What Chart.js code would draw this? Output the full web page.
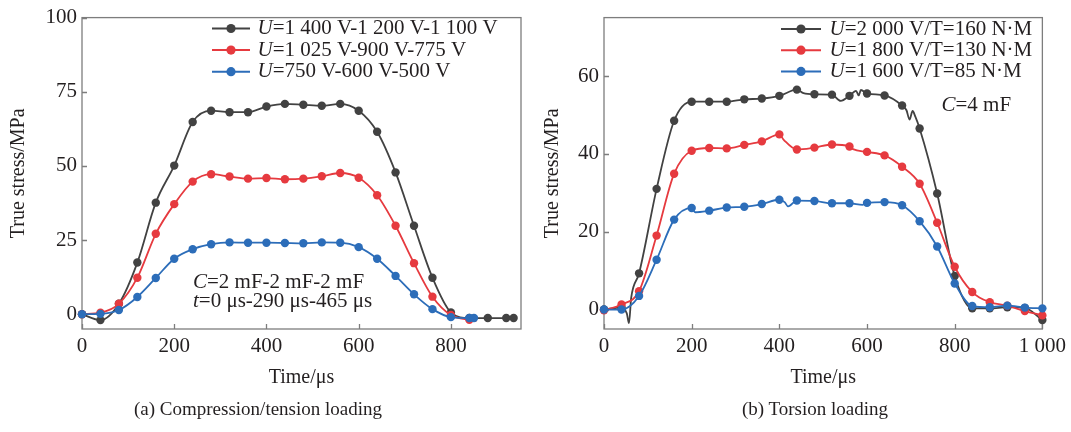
<!DOCTYPE html>
<html>
<head>
<meta charset="utf-8">
<script src="https://cdn.jsdelivr.net/npm/chart.js@4.4.0/dist/chart.umd.min.js"></script>
<style>
  body { margin: 0; background: #fff; }
  #wrap { position: relative; width: 1071px; height: 432px; overflow: hidden; }
  .box { position: absolute; top: 0; height: 432px; }
  .cap { position: absolute; top: 398px; font: 19px "Liberation Serif", serif; color: #231f20; text-align: center; }
</style>
</head>
<body>
<div id="wrap">
  <div class="box" style="left:0;width:535px"><canvas id="chartA"></canvas></div>
  <div class="box" style="left:535px;width:536px"><canvas id="chartB"></canvas></div>
  <div class="cap" style="left:0;width:516px">(a) Compression/tension loading</div>
  <div class="cap" style="left:560px;width:510px">(b) Torsion loading</div>
</div>
<script>
// ---- (a) compression / tension ----
const timeA = [0, 40, 80, 120, 160, 200, 240, 280, 320, 360, 400, 440, 480, 520, 560, 600, 640, 680, 720, 760, 800, 840];
const blackA = [0, -2, 3.5, 17.4, 37.6, 50.1, 64.8, 68.6, 68.1, 68.1, 70.0, 70.9, 70.6, 70.3, 70.9, 68.6, 61.5, 47.8, 29.8, 12.3, 0.6, -1.3];
const redA = [0, 0.5, 3.5, 12.3, 27.1, 37.1, 44.7, 47.2, 46.4, 45.7, 45.9, 45.5, 45.7, 46.5, 47.6, 46.0, 40.1, 29.8, 17.2, 5.9, -0.3, -1.9];
const blueA = [0, 0.1, 1.4, 5.8, 12.2, 18.7, 21.9, 23.6, 24.2, 24.1, 24.1, 24.0, 23.9, 24.2, 24.1, 22.6, 18.7, 12.9, 6.7, 1.7, -1.0, -1.3];
// extra points after 840 us (with markers)
const blackTailTimeA = [880, 920, 936];
const blackTailA = [-1.3, -1.3, -1.3];
const blueTailTimeA = [850];
const blueTailA = [-1.3];
// line-only end of red curve
const redKinkTimeA = [856];
const redKinkA = [-2.2];
const ticksXA = [0, 200, 400, 600, 800];
const labelsXA = ['0', '200', '400', '600', '800'];
const ticksYA = [0, 25, 50, 75, 100];
const legendA = ['=1 400 V-1 200 V-1 100 V', '=1 025 V-900 V-775 V', '=750 V-600 V-500 V'];

// ---- (b) torsion ----
const timeB = [0, 40, 80, 120, 160, 200, 240, 280, 320, 360, 400, 440, 480, 520, 560, 600, 640, 680, 720, 760, 800, 840, 880, 920, 960, 1000];
const blackB = [0, 0.5, 9.3, 31.0, 48.5, 53.4, 53.4, 53.4, 54.0, 54.2, 54.9, 56.5, 55.3, 55.2, 54.9, 55.5, 55.0, 52.4, 46.5, 29.8, 8.6, 0.3, 0.3, 0.6, 0.4, -2.7];
const redB = [-0.2, 1.3, 4.7, 19.0, 34.9, 40.8, 41.5, 41.4, 42.3, 43.2, 45.0, 41.1, 41.6, 42.4, 41.9, 40.5, 39.6, 36.7, 32.3, 22.3, 11.0, 4.5, 1.9, 1.0, -0.4, -1.5];
const blueB = [0, 0, 3.5, 12.8, 23.1, 26.1, 25.4, 26.2, 26.4, 27.1, 28.2, 28.0, 27.9, 27.3, 27.3, 27.4, 27.6, 26.8, 22.7, 16.2, 6.7, 0.9, 0.6, 1.0, 0.5, 0.3];
// noisy bits of the curves between markers (no markers)
const blackKinkTimeB = [52, 57, 62, 455, 540, 575, 581, 586, 690, 697, 704, 710];
const blackKinkB = [-1.0, -3.5, 3.0, 55.6, 53.6, 56.2, 55.0, 56.4, 51.2, 48.8, 51.0, 49.6];
const redKinkTimeB = [410, 568];
const redKinkB = [43.6, 41.2];
const blueKinkTimeB = [208, 412, 420, 590];
const blueKinkB = [25.0, 27.6, 26.5, 26.9];
const ticksXB = [0, 200, 400, 600, 800, 1000];
const labelsXB = ['0', '200', '400', '600', '800', '1 000'];
const ticksYB = [0, 20, 40, 60];
const legendB = ['=2 000 V/T=160 N·M', '=1 800 V/T=130 N·M', '=1 600 V/T=85 N·M'];

const BLACK = '#424242', RED = '#e63a3f', BLUE = '#2c6db9';
const TEXT = '#231f20';
const FONT = '"Liberation Serif", serif';

Chart.defaults.font.family = FONT;
Chart.defaults.color = TEXT;

function build(times, values, extraT, extraV, kinkT, kinkV) {
  const pts = times.map((t, i) => ({ x: t, y: values[i], m: true }));
  extraT.forEach((t, i) => pts.push({ x: t, y: extraV[i], m: true }));
  kinkT.forEach((t, i) => pts.push({ x: t, y: kinkV[i], m: false }));
  return pts.sort((a, b) => a.x - b.x);
}

function line(data, color) {
  return {
    data: data,
    borderColor: color,
    backgroundColor: color,
    pointBackgroundColor: color,
    borderWidth: 1.8,
    pointBorderWidth: 0,
    pointRadius: c => (c.raw && c.raw.m ? 4.2 : 0),
    cubicInterpolationMode: 'monotone',
    clip: false
  };
}

function richText(ctx, x, y, ital, rest, size) {
  ctx.font = 'italic ' + size + 'px ' + FONT;
  ctx.fillText(ital, x, y);
  const w = ctx.measureText(ital).width;
  ctx.font = size + 'px ' + FONT;
  ctx.fillText(rest, x + w, y);
}

// frame round the plot + inward tick marks
const framePlugin = {
  id: 'frame',
  beforeDatasetsDraw(chart) {
    const { ctx, chartArea: a, scales } = chart;
    ctx.save();
    ctx.strokeStyle = '#7d7d7d';
    ctx.lineWidth = 1.3;
    ctx.strokeRect(a.left, a.top, a.right - a.left, a.bottom - a.top);
    ctx.beginPath();
    scales.x.ticks.forEach(t => {
      const px = Math.round(scales.x.getPixelForValue(t.value)) + 0.5;
      ctx.moveTo(px, a.bottom); ctx.lineTo(px, a.bottom - 5);
    });
    scales.y.ticks.forEach(t => {
      const py = Math.round(scales.y.getPixelForValue(t.value)) + 0.5;
      ctx.moveTo(a.left, py); ctx.lineTo(a.left + 5, py);
    });
    ctx.stroke();
    ctx.restore();
  },
  afterDraw(chart) {
    const o = chart.options.plugins.frame;
    const ctx = chart.ctx;
    ctx.save();
    ctx.textBaseline = 'middle';
    ctx.textAlign = 'left';
    // legend: line + dot + text
    o.labels.forEach((txt, i) => {
      const y = o.y + i * o.gap;
      ctx.strokeStyle = o.colors[i];
      ctx.fillStyle = o.colors[i];
      ctx.lineWidth = 2;
      ctx.beginPath();
      ctx.moveTo(o.x, y); ctx.lineTo(o.x + o.len, y);
      ctx.stroke();
      ctx.beginPath();
      ctx.arc(o.x + o.len / 2, y, 4.6, 0, Math.PI * 2);
      ctx.fill();
      ctx.fillStyle = TEXT;
      richText(ctx, o.textX, y, 'U', txt, 21);
    });
    ctx.fillStyle = TEXT;
    o.notes.forEach(n => richText(ctx, n.x, n.y, n.i, n.t, 21));
    ctx.restore();
  }
};

function axes(xmax, xticks, xlabels, ymax, yticks, ywidth, ytitlePad) {
  return {
    x: {
      type: 'linear', min: 0, max: xmax,
      afterBuildTicks: s => { s.ticks = xticks.map(v => ({ value: v })); },
      afterFit: s => { s.height = 103; },
      grid: { display: false, drawTicks: false },
      border: { display: false },
      ticks: { padding: 5, color: TEXT, font: { size: 21 }, maxRotation: 0,
               callback: v => xlabels[xticks.indexOf(v)] },
      title: { display: true, text: 'Time/μs', color: TEXT, font: { size: 20 }, padding: { top: 0, bottom: 42 } }
    },
    y: {
      type: 'linear', min: -5, max: ymax,
      afterBuildTicks: s => { s.ticks = yticks.map(v => ({ value: v })); },
      afterFit: s => { s.width = ywidth; },
      grid: { display: false, drawTicks: false },
      border: { display: false },
      ticks: { padding: 5, color: TEXT, font: { size: 21 }, callback: v => String(v) },
      title: { display: true, text: 'True stress/MPa', color: TEXT, font: { size: 20 }, padding: { top: ytitlePad, bottom: 0 } }
    }
  };
}

new Chart(document.getElementById('chartA'), {
  type: 'line',
  data: {
    datasets: [
      line(build(timeA, blueA, blueTailTimeA, blueTailA, [], []), BLUE),
      line(build(timeA, redA, [], [], redKinkTimeA, redKinkA), RED),
      line(build(timeA, blackA, blackTailTimeA, blackTailA, [], []), BLACK)
    ]
  },
  options: {
    responsive: true,
    maintainAspectRatio: false,
    animation: false,
    layout: { padding: { top: 12, right: 14, left: 0, bottom: 0 } },
    scales: axes(952, ticksXA, labelsXA, 100, ticksYA, 82, 7),
    plugins: {
      legend: { display: false },
      tooltip: { enabled: false },
      frame: {
        labels: legendA, colors: [BLACK, RED, BLUE],
        x: 212, len: 38, textX: 257.5, y: 28.5, gap: 21.6,
        notes: [
          { i: 'C', t: '=2 mF-2 mF-2 mF', x: 193, y: 282 },
          { i: 't', t: '=0 μs-290 μs-465 μs', x: 193, y: 301 }
        ]
      }
    }
  },
  plugins: [framePlugin]
});

new Chart(document.getElementById('chartB'), {
  type: 'line',
  data: {
    datasets: [
      line(build(timeB, blueB, [], [], blueKinkTimeB, blueKinkB), BLUE),
      line(build(timeB, redB, [], [], redKinkTimeB, redKinkB), RED),
      line(build(timeB, blackB, [], [], blackKinkTimeB, blackKinkB), BLACK)
    ]
  },
  options: {
    responsive: true,
    maintainAspectRatio: false,
    animation: false,
    layout: { padding: { top: 12, right: 27, left: 0, bottom: 0 } },
    scales: axes(1000, ticksXB, labelsXB, 75, ticksYB, 69, 6),
    plugins: {
      legend: { display: false },
      tooltip: { enabled: false },
      frame: {
        labels: legendB, colors: [BLACK, RED, BLUE],
        x: 246, len: 40, textX: 294.5, y: 29, gap: 21.2,
        notes: [
          { i: 'C', t: '=4 mF', x: 406.5, y: 105 }
        ]
      }
    }
  },
  plugins: [framePlugin]
});
</script>
</body>
</html>
